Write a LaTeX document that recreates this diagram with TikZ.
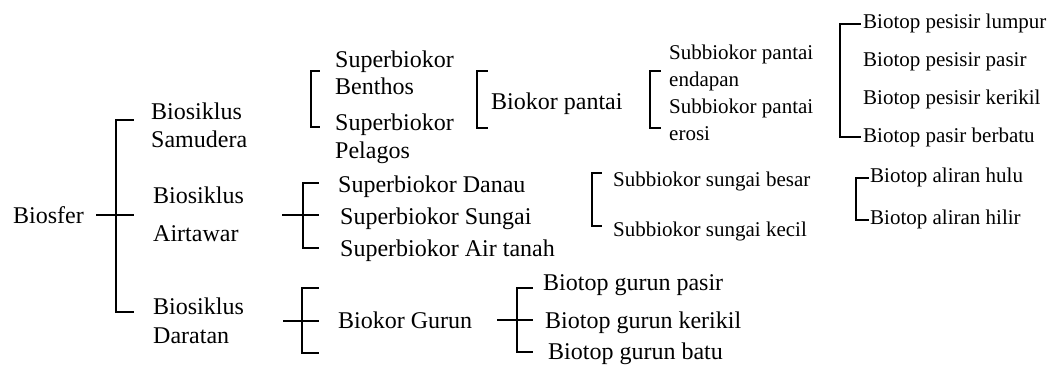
\documentclass[tikz,border=0pt]{standalone}
\usepackage{fontspec}
\setmainfont{Liberation Serif}
\begin{document}
\begin{tikzpicture}[x=1pt,y=-1pt,
  big/.style={anchor=base west,inner sep=0pt,font=\fontsize{24}{28}\selectfont},
  small/.style={anchor=base west,inner sep=0pt,font=\fontsize{21}{25}\selectfont},
  brk/.style={line width=2pt,line join=miter,line cap=rect}]
\useasboundingbox (0,0) rectangle (1050,365);
% level 0
\node[big] (biosfer) at (13,223) {Biosfer};
% level 1
\node[big] (sam1) at (151,119) {Biosiklus};
\node[big] (sam2) at (151,147) {Samudera};
\node[big] (air1) at (153,203) {Biosiklus};
\node[big] (air2) at (153,241) {Airtawar};
\node[big] (dar1) at (153,314) {Biosiklus};
\node[big] (dar2) at (153,343) {Daratan};
% samudera branch
\node[big] (ben1) at (335,67) {Superbiokor};
\node[big] (ben2) at (335,94) {Benthos};
\node[big] (pel1) at (335,130) {Superbiokor};
\node[big] (pel2) at (335,158) {Pelagos};
\node[big] (pantai) at (491,109) {Biokor pantai};
\node[small] (end1) at (669,59) {Subbiokor pantai};
\node[small] (end2) at (669,86) {endapan};
\node[small] (ero1) at (669,113) {Subbiokor pantai};
\node[small] (ero2) at (669,140) {erosi};
\node[small] (lumpur) at (863,28) {Biotop pesisir lumpur};
\node[small] (pasir) at (863,66) {Biotop pesisir pasir};
\node[small] (kerikil) at (863,104) {Biotop pesisir kerikil};
\node[small] (berbatu) at (863,142) {Biotop pasir berbatu};
% airtawar branch
\node[big] (danau) at (338,192) {Superbiokor Danau};
\node[big] (sungai) at (340,224) {Superbiokor Sungai};
\node[big] (airtanah) at (340,256) {Superbiokor Air tanah};
\node[small] (besar) at (613,186) {Subbiokor sungai besar};
\node[small] (kecil) at (613,236) {Subbiokor sungai kecil};
\node[small] (hulu) at (870,182) {Biotop aliran hulu};
\node[small] (hilir) at (870,224) {Biotop aliran hilir};
% daratan branch
\node[big] (gurun) at (338,328) {Biokor Gurun};
\node[big] (gpasir) at (543,290) {Biotop gurun pasir};
\node[big] (gkerikil) at (545,328) {Biotop gurun kerikil};
\node[big] (gbatu) at (548,359) {Biotop gurun batu};
% brackets
\draw[brk] (97,215) -- (133,215);
\draw[brk] (133,120) -- (116,120) -- (116,312) -- (133,312);
\draw[brk] (319,71) -- (311,71) -- (311,127) -- (319,127);
\draw[brk] (487,71) -- (477,71) -- (477,128) -- (487,128);
\draw[brk] (660,71) -- (650,71) -- (650,128) -- (660,128);
\draw[brk] (860,24) -- (840,24) -- (840,137) -- (860,137);
\draw[brk] (283,215) -- (318,215);
\draw[brk] (318,183) -- (303,183) -- (303,248) -- (318,248);
\draw[brk] (601,173) -- (592,173) -- (592,226) -- (601,226);
\draw[brk] (868,178) -- (856,178) -- (856,220) -- (868,220);
\draw[brk] (284,321) -- (318,321);
\draw[brk] (318,288) -- (302,288) -- (302,353) -- (318,353);
\draw[brk] (498,320) -- (532,320);
\draw[brk] (532,288) -- (517,288) -- (517,352) -- (532,352);
\end{tikzpicture}
\end{document}
